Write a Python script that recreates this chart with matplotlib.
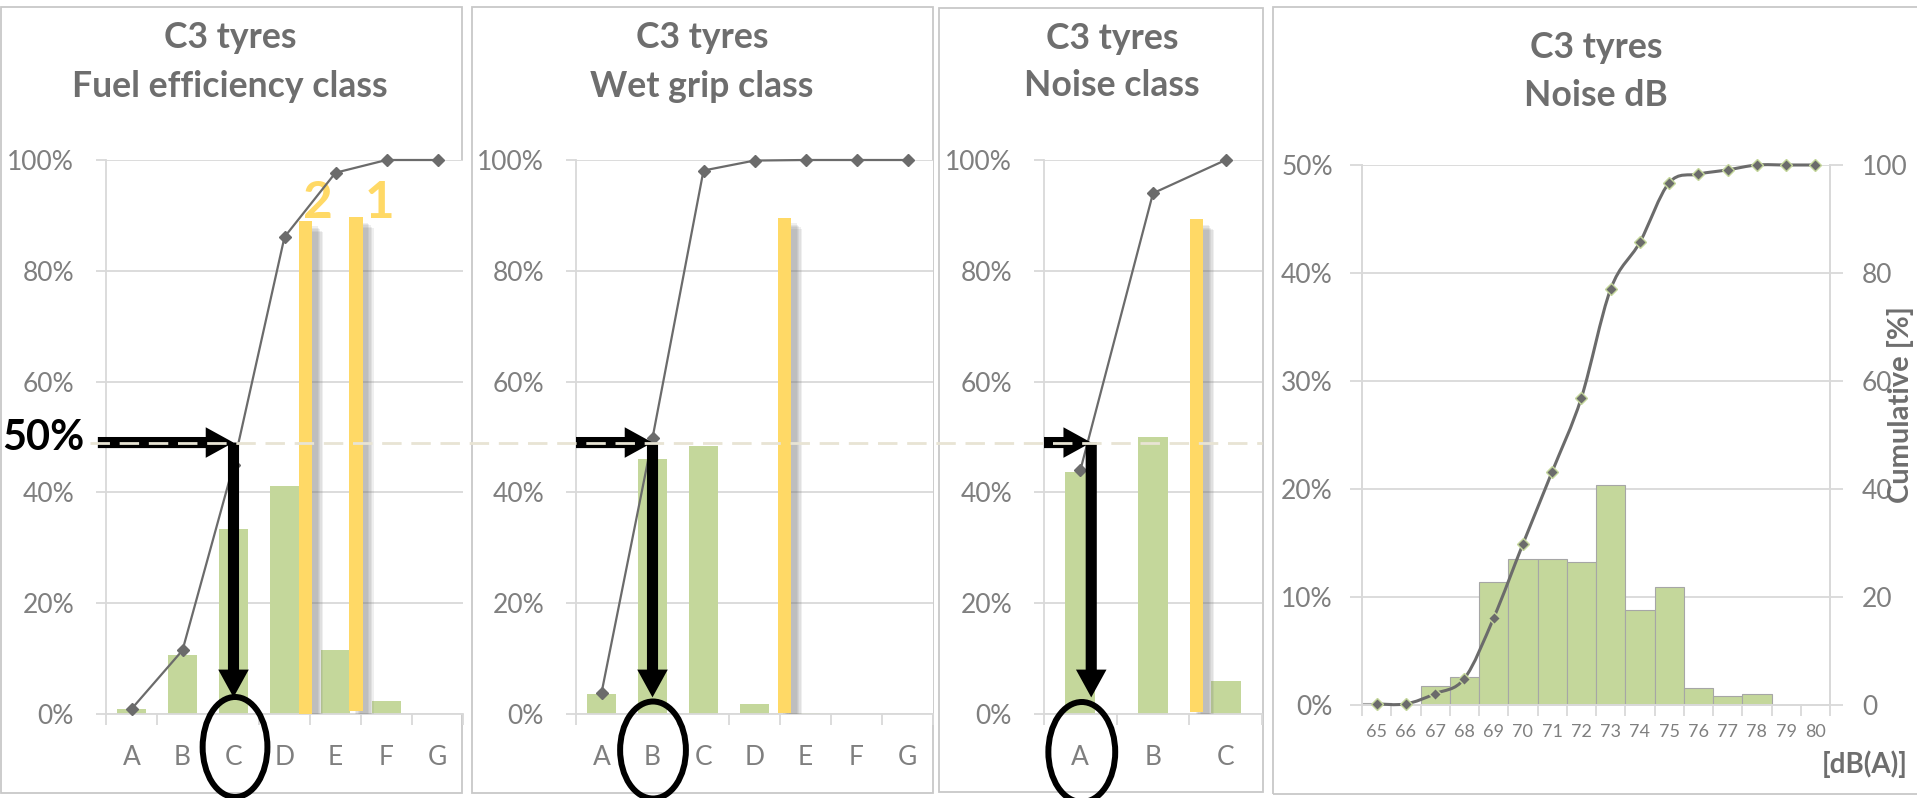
import numpy as np
import matplotlib
matplotlib.use("Agg")
import matplotlib.pyplot as plt
import matplotlib.patheffects as pe
import matplotlib.transforms as mtransforms
from matplotlib import font_manager
from matplotlib.lines import Line2D
from matplotlib.patches import Rectangle, Ellipse, FancyArrowPatch, PathPatch
from matplotlib.path import Path
from matplotlib.ticker import PercentFormatter, FixedLocator

# ---- data ----
fuel_classes = ['A', 'B', 'C', 'D', 'E', 'F', 'G']
fuel_share = [0.009, 0.106, 0.334, 0.412, 0.116, 0.023, 0.0]
fuel_cum = [0.009, 0.115, 0.449, 0.861, 0.977, 1.0, 1.0]

wet_classes = ['A', 'B', 'C', 'D', 'E', 'F', 'G']
wet_share = [0.036, 0.460, 0.483, 0.018, 0.002, 0.0, 0.0]
wet_cum = [0.038, 0.498, 0.981, 0.999, 1.0, 1.0, 1.0]

noise_classes = ['A', 'B', 'C']
noise_share = [0.437, 0.500, 0.060]
noise_cum = [0.44, 0.94, 1.0]

db_levels = [65, 66, 67, 68, 69, 70, 71, 72, 73, 74, 75, 76, 77, 78, 79, 80]
db_share = [0.002, 0.0, 0.018, 0.026, 0.114, 0.135, 0.135, 0.132,
            0.204, 0.088, 0.109, 0.016, 0.008, 0.010, 0.0, 0.0]
db_cum = [0.2, 0.2, 2.1, 4.9, 16.1, 29.8, 43.2, 56.9,
          77.0, 85.7, 96.7, 98.3, 99.1, 100, 100, 100]

# yellow limit bars (bottom, top) and their labels
fuel_limit_lo = [0.0, 0.005]
fuel_limit_hi = [0.890, 0.897]
fuel_limit_names = ['2', '1']
wet_limit_lo = [0.002]
wet_limit_hi = [0.896]
noise_limit_lo = [0.003]
noise_limit_hi = [0.893]

GREEN = '#C4D79B'
YELLOW = '#FFD966'
LINE = '#6B6B6B'
GRID = '#D9D9D9'
TICK = '#7F7F7F'
TITLE = '#6E6E6E'

names = {f.name for f in font_manager.fontManager.ttflist}
plt.rcParams['font.family'] = ['Lato', 'DejaVu Sans']
NARROW = ['Liberation Sans Narrow', 'Lato', 'DejaVu Sans'] if 'Liberation Sans Narrow' in names \
    else ['Lato', 'DejaVu Sans']

W, H = 1917, 798
fig = plt.figure(figsize=(W / 100, H / 100), dpi=100)
titles = []


def px_axes(x0, y0, x1, y1):
    return fig.add_axes([x0 / W, 1 - y1 / H, (x1 - x0) / W, (y1 - y0) / H])


def panel_box(x0, y0, x1, y1):
    fig.add_artist(Rectangle((x0 / W, 1 - y1 / H), (x1 - x0) / W, (y1 - y0) / H,
                             transform=fig.transFigure, fill=False,
                             ec='#C8C8C8', lw=1.3, zorder=0))


def title(xc, y1, y2, line2):
    for txt, y in [('C3 tyres', y1), (line2, y2)]:
        titles.append(fig.text(xc / W, 1 - y / H, txt, ha='center', va='baseline',
                               fontsize=22, fontweight='bold', color=TITLE))


def class_panel(ax, cats, share, cum, lim_x, lim_w, lim_lo, lim_hi, bar_w):
    x = np.arange(len(cats))
    ax.bar(x, share, width=bar_w, color=GREEN, zorder=2)
    shadow = [pe.SimplePatchShadow(offset=(o, -o), shadow_rgbFace='#6f6f6f', alpha=0.11)
              for o in (4, 5, 6, 7, 8)]
    for xx, lo, hi in zip(lim_x, lim_lo, lim_hi):
        ax.bar(xx, hi - lo, bottom=lo, width=lim_w, color=YELLOW, zorder=3,
               path_effects=shadow + [pe.Normal()])
    ax.plot(x, cum, color=LINE, lw=1.6, marker='D', ms=6.5, zorder=4, clip_on=False)
    ax.set_xlim(-0.5, len(cats) - 0.5)
    ax.set_ylim(0, 1)
    ax.set_yticks(np.arange(0, 1.01, 0.2))
    ax.yaxis.set_major_formatter(PercentFormatter(1.0, decimals=0))
    ax.yaxis.grid(True, color=GRID, lw=1.3)
    ax.set_axisbelow(True)
    ax.set_xticks(x)
    ax.set_xticklabels(cats)
    ax.xaxis.set_minor_locator(FixedLocator(np.arange(-0.5, len(cats), 1.0)))
    ax.tick_params(axis='x', which='major', length=0, pad=22, labelsize=19, labelcolor=TICK)
    ax.tick_params(axis='x', which='minor', length=8, color=GRID, width=1.3)
    ax.tick_params(axis='y', length=7, color=GRID, width=1.3, pad=16, labelsize=19, labelcolor=TICK)
    for s in ['top', 'right']:
        ax.spines[s].set_visible(False)
    for s in ['left', 'bottom']:
        ax.spines[s].set_color(GRID)
        ax.spines[s].set_linewidth(1.3)


def arrows(ax, x_from, x_at, y_level, y_tip):
    style = 'Simple, tail_width=8, head_width=22, head_length=20'
    for a, b in [((x_from, y_level), (x_at, y_level)), ((x_at, y_level), (x_at, y_tip))]:
        ax.add_patch(FancyArrowPatch(a, b, arrowstyle=style, mutation_scale=1, color='black',
                                     lw=0, shrinkA=0, shrinkB=0, clip_on=False, zorder=10))


def ring(ax, xc, yc_px, w, h_px):
    tr = mtransforms.blended_transform_factory(ax.transData, fig.transFigure)
    fig.add_artist(Ellipse((xc, 1 - yc_px / H), w, h_px / H, transform=tr, fill=False,
                           ec='black', lw=4.3, zorder=12))


# ---- panel frames ----
panel_box(1, 7, 462, 793)
panel_box(472, 7, 933, 793)
panel_box(939, 8, 1263, 792)
panel_box(1273, 7, 1930, 794)

title(230, 48, 97, 'Fuel efficiency class')
title(702, 48, 97, 'Wet grip class')
title(1112, 49, 96, 'Noise class')
title(1596, 58, 106, 'Noise dB')

LEVEL = 0.49
TIP = 0.03

# ---- fuel efficiency ----
ax1 = px_axes(106, 160, 463, 714)
class_panel(ax1, fuel_classes, fuel_share, fuel_cum, [3.41, 4.40], 0.26,
            fuel_limit_lo, fuel_limit_hi, 0.57)
for xx, name in zip([3.65, 4.87], fuel_limit_names):
    ax1.text(xx, 0.922, name, ha='center', va='center', color=YELLOW,
             fontsize=37, fontweight='bold', zorder=3)
arrows(ax1, -0.66, 2.0, LEVEL, TIP)
ring(ax1, 2.03, 747, 1.27, 100)

# ---- wet grip ----
ax2 = px_axes(576, 160, 933, 714)
class_panel(ax2, wet_classes, wet_share, wet_cum, [3.585], 0.26,
            wet_limit_lo, wet_limit_hi, 0.58)
arrows(ax2, -0.5, 1.0, LEVEL, TIP)
ring(ax2, 1.01, 750, 1.29, 97)

# ---- noise class ----
ax3 = px_axes(1044, 160, 1262, 714)
class_panel(ax3, noise_classes, noise_share, noise_cum, [1.60], 0.18,
            noise_limit_lo, noise_limit_hi, 0.41)
arrows(ax3, -0.5, 0.15, LEVEL, TIP)
ring(ax3, 0.02, 752, 0.92, 100)

fig.text(2 / W, 1 - 438 / H, '50%', ha='left', va='center', fontsize=30,
         fontweight='bold', color='black')

# dashed 50% guide across the three class panels
tr = mtransforms.blended_transform_factory(fig.transFigure, ax1.transData)
fig.add_artist(Line2D([90 / W, 1262 / W], [LEVEL, LEVEL], transform=tr, color='#E8E4D4',
                      lw=2.0, dashes=(7, 3.5), zorder=20))

# ---- noise dB histogram ----
ax4 = px_axes(1362, 165, 1830, 705)
x = np.arange(len(db_levels))
ax4.bar(x, db_share, width=1.0, color=GREEN, edgecolor='#A6A6A6', lw=0.8, zorder=2)
ax4.set_xlim(-0.5, len(db_levels) - 0.5)
ax4.set_ylim(0, 0.5)
ax4.set_yticks(np.arange(0, 0.51, 0.1))
ax4.yaxis.set_major_formatter(PercentFormatter(1.0, decimals=0))
ax4.yaxis.grid(True, color=GRID, lw=1.3)
ax4.set_axisbelow(True)
ax4.set_xticks(x)
ax4.set_xticklabels([str(v) for v in db_levels])
ax4.xaxis.set_minor_locator(FixedLocator(np.arange(-0.5, len(db_levels), 1.0)))
ax4.tick_params(axis='x', which='major', length=0, pad=14, labelsize=13, labelcolor=TICK)
ax4.tick_params(axis='x', which='minor', length=8, color=GRID, width=1.3)
ax4.tick_params(axis='y', length=9, color=GRID, width=1.3, pad=12, labelsize=19, labelcolor=TICK)

ax4b = ax4.twinx()
ax4b.set_ylim(0, 100)
ax4b.set_yticks(np.arange(0, 101, 20))
ax4b.tick_params(axis='y', length=9, color=GRID, width=1.3, pad=14, labelsize=19, labelcolor=TICK)
for lab in ax4b.get_yticklabels():
    lab.set_family(NARROW)
for a in (ax4, ax4b):
    a.spines['top'].set_visible(False)
    for s in ['left', 'right', 'bottom']:
        a.spines[s].set_color(GRID)
        a.spines[s].set_linewidth(1.3)

# smoothed cumulative curve (Catmull-Rom through the points)
pts = list(zip(x, db_cum))
verts = [pts[0]]
codes = [Path.MOVETO]
for i in range(len(pts) - 1):
    p0 = pts[max(i - 1, 0)]
    p1, p2 = pts[i], pts[i + 1]
    p3 = pts[min(i + 2, len(pts) - 1)]
    c1 = (p1[0] + (p2[0] - p0[0]) / 6, p1[1] + (p2[1] - p0[1]) / 6)
    c2 = (p2[0] - (p3[0] - p1[0]) / 6, p2[1] - (p3[1] - p1[1]) / 6)
    verts += [c1, c2, p2]
    codes += [Path.CURVE4] * 3
ax4b.add_patch(PathPatch(Path(verts, codes), fill=False, ec=LINE, lw=2.2, zorder=3, clip_on=False))
ax4b.plot(x, db_cum, ls='none', marker='D', ms=6, mfc=LINE, mec=GREEN, mew=1.0,
          zorder=4, clip_on=False)

fig.text(1900 / W, 1 - 405 / H, 'Cumulative [%]', rotation=90, ha='center', va='center',
         fontsize=21, fontweight='bold', color=TITLE, family=NARROW)
fig.text(1865 / W, 1 - 764 / H, '[dB(A)]', ha='center', va='center',
         fontsize=20, fontweight='bold', color=TITLE)

# size the titles so the longest line spans its width in the reference (~315 px)
fig.canvas.draw()
renderer = fig.canvas.get_renderer()
ref = titles[1]
scale = 315 / ref.get_window_extent(renderer).width
for t in titles:
    t.set_fontsize(22 * scale)

fig.savefig('out.png', dpi=100)
